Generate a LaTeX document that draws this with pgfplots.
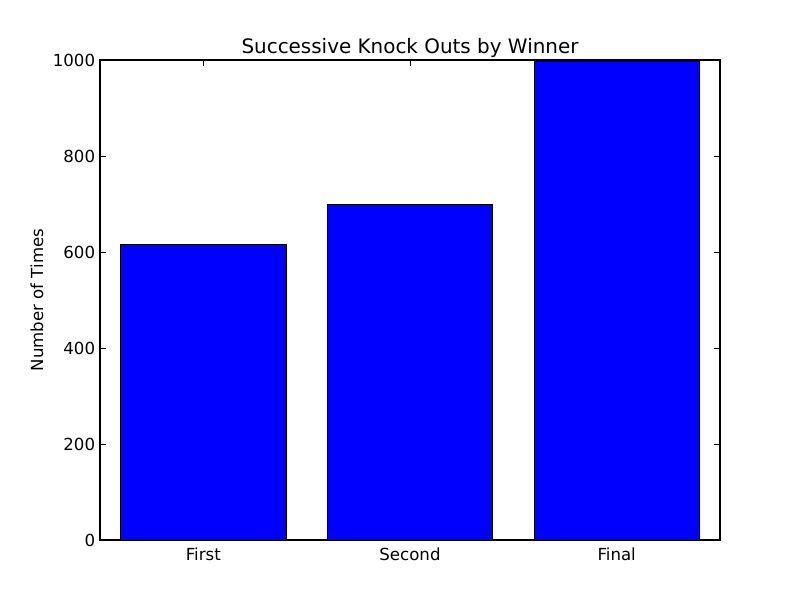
\documentclass[border=0pt]{standalone}
\usepackage{pgfplots}
\pgfplotsset{compat=1.18}
\usepackage{fontspec}
\setmainfont{DejaVu Sans}
\begin{document}
\begin{tikzpicture}
  \path[use as bounding box] (0,0) rectangle (578.16pt,433.62pt);
  \begin{axis}[
    at={(72.27pt,43.36pt)},
    anchor=south west,
    scale only axis,
    width=448.07pt,
    height=346.9pt,
    xmin=-0.5, xmax=2.5,
    ymin=0, ymax=1000,
    xtick={0,1,2},
    xticklabels={First,Second,Final},
    ytick={0,200,400,600,800,1000},
    tick align=inside,
    major tick length=4pt,
    tick style={black, line width=0.5pt},
    axis line style={black, line width=0.8pt},
    title={Successive Knock Outs by Winner},
    title style={font=\fontsize{14.4}{16}\selectfont, yshift=-8pt},
    ylabel={Number of Times},
    ylabel style={font=\fontsize{12}{14}\selectfont},
    ticklabel style={font=\fontsize{12}{14}\selectfont},
    xticklabel style={yshift=-2pt},
    /pgf/number format/assume math mode=true,
    /pgf/number format/1000 sep={},
    scaled y ticks=false,
  ]
  \addplot[ybar, bar width=0.8, fill={rgb,255:red,0;green,0;blue,255}, draw=black, line width=0.6pt]
    coordinates {(0,616) (1,699) (2,998)};
  \end{axis}
\end{tikzpicture}
\end{document}
